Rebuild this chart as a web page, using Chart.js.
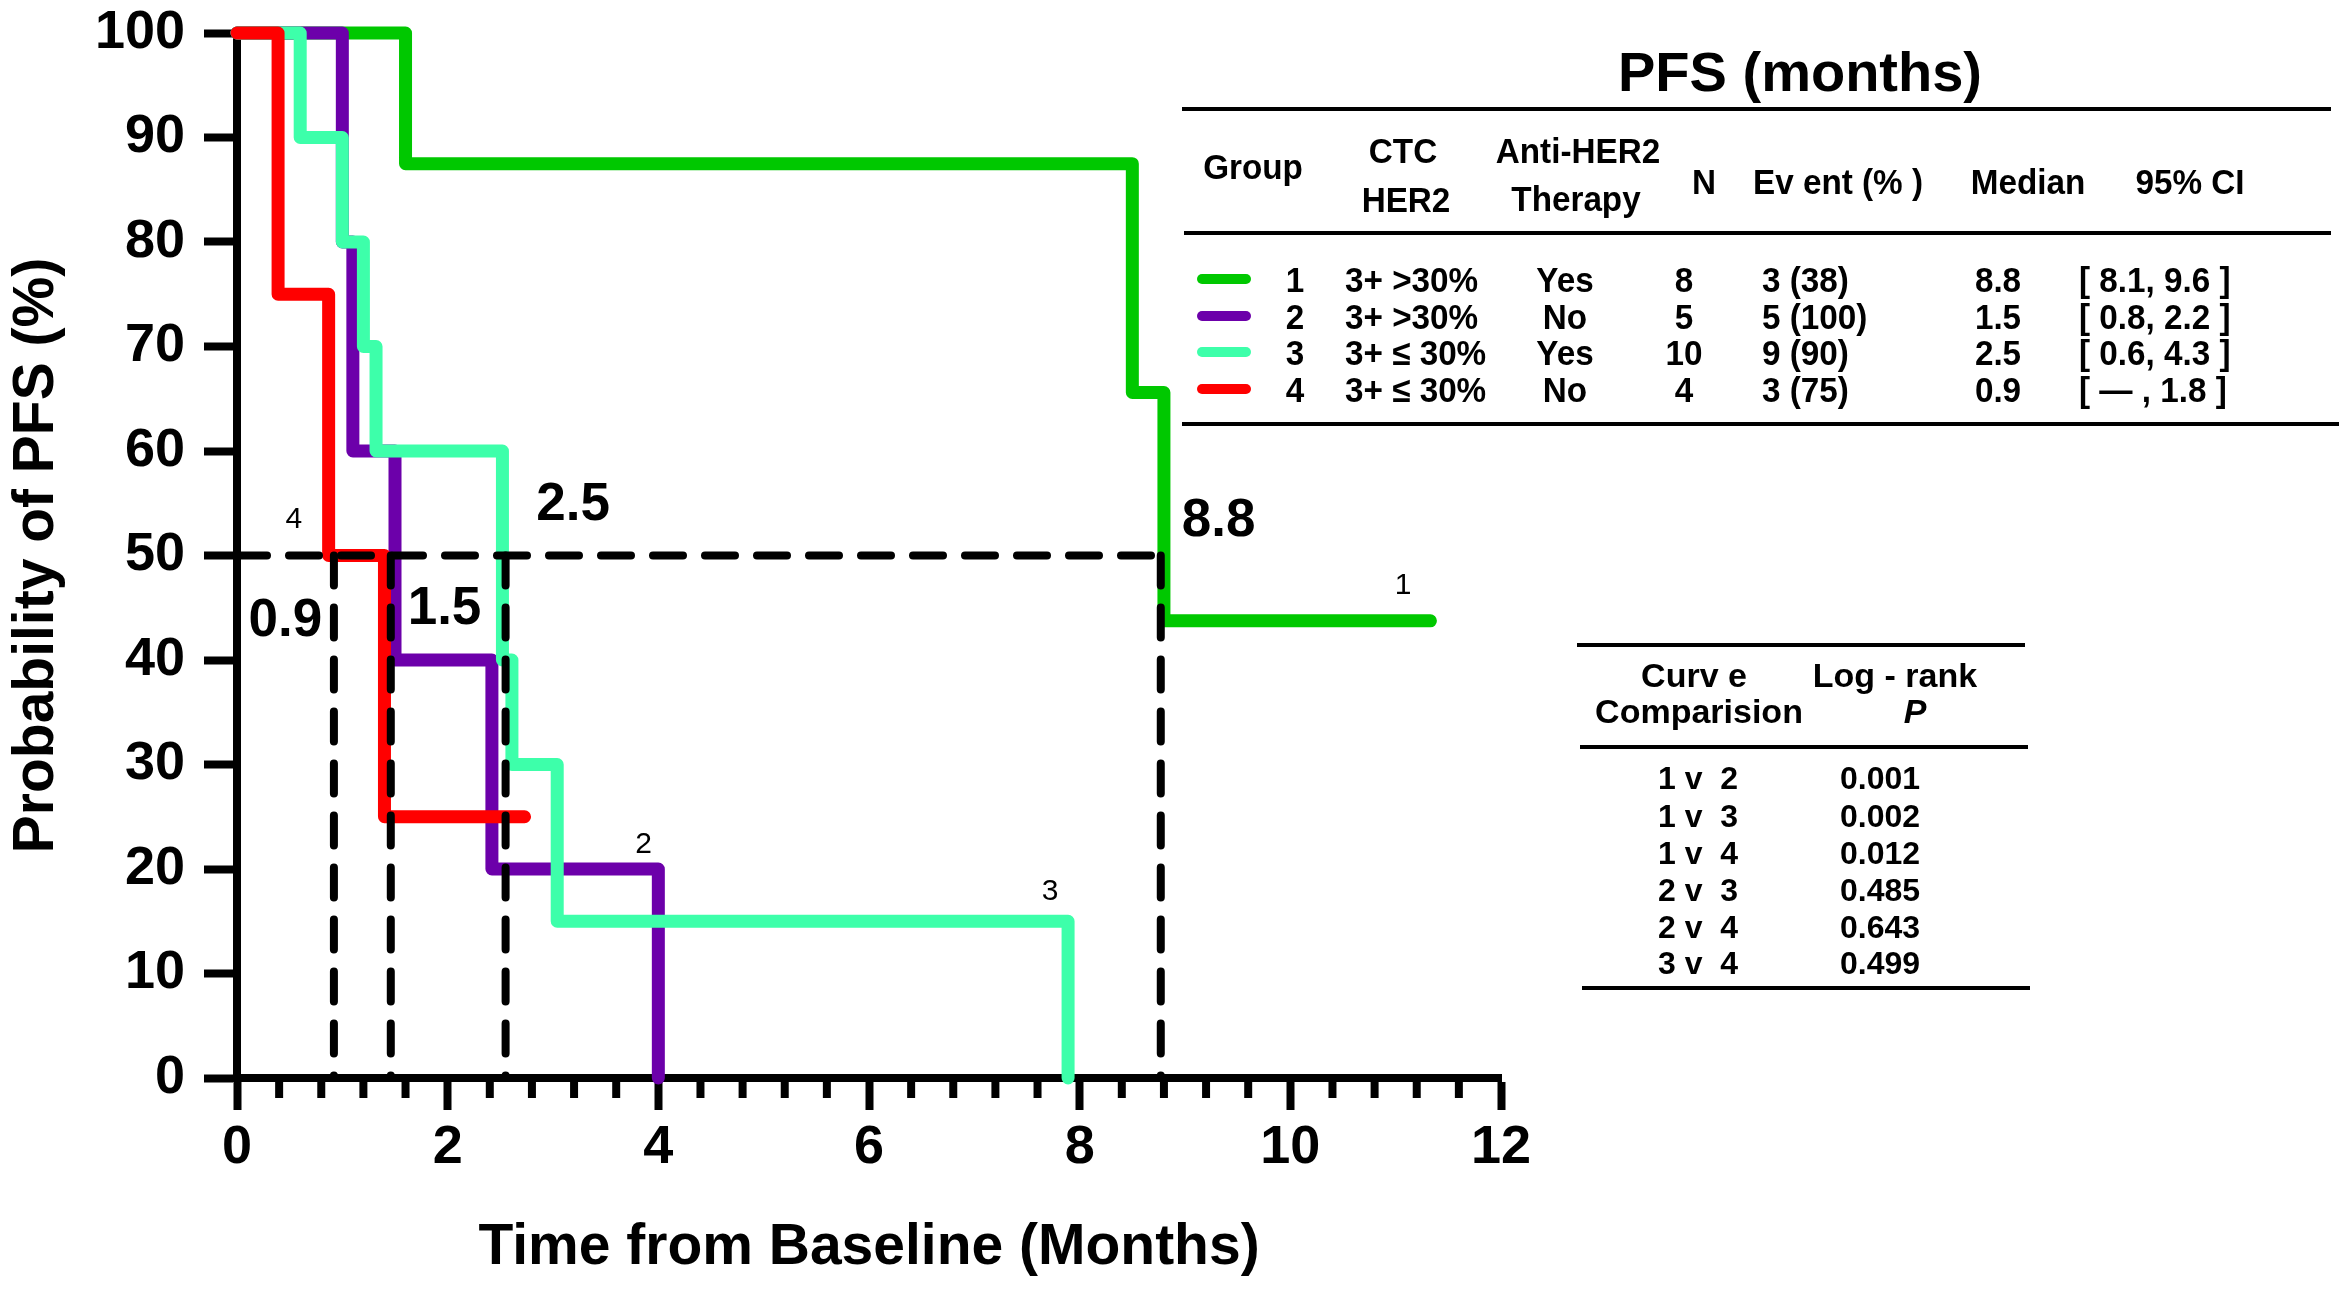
<!DOCTYPE html>
<html>
<head>
<meta charset="utf-8">
<title>PFS by CTC HER2 group</title>
<script src="https://cdn.jsdelivr.net/npm/chart.js@4.4.1/dist/chart.umd.min.js"></script>
<style>
  html, body { margin: 0; padding: 0; background: #fff; }
  #wrap { position: relative; width: 2349px; height: 1293px; overflow: hidden;
          font-family: "Liberation Sans", Arial, sans-serif; color: #000; }
  #myChart { position: absolute; left: 0; top: 0; }
  .t { position: absolute; white-space: pre; line-height: 1; font-weight: bold; }
  .c { transform: translate(-50%, -50%) scaleX(0.95); }
  .l { transform-origin: 0 50%; transform: translate(0, -50%) scaleX(0.95); }
  .c2 { transform: translate(-50%, -50%); }
  .rule { position: absolute; height: 4px; background: #000; }
  .swatch { position: absolute; width: 54px; height: 10px; border-radius: 5px;
            transform: translate(-50%, -50%); }
</style>
</head>
<body>
<div id="wrap">
  <canvas id="myChart" width="2349" height="1293"></canvas>
  <div id="tables"></div>
</div>
<script>
// Kaplan-Meier steps, time in months / survival in %
const g1Time = [0, 1.6, 8.5, 8.8, 11.33];
const g1Surv = [100, 87.5, 65.6, 43.75, 43.75];
const g2Time = [0, 1.0, 1.1, 1.5, 2.42, 4.0];
const g2Surv = [100, 80, 60, 40, 20, 0];
const g3Time = [0, 0.6, 1.0, 1.2, 1.32, 2.52, 2.61, 3.04, 7.89];
const g3Surv = [100, 90, 80, 70, 60, 40, 30, 15, 0];
const g4Time = [0, 0.39, 0.87, 1.4, 2.73];
const g4Surv = [100, 75, 50, 25, 25];

// median guide lines
const medianLevel = 50;
const medianLineX = [0.92, 1.46, 2.55, 8.77];
const medianLabels = ["0.9", "1.5", "2.5", "8.8"];
const medianLabelX = [0.46, 1.97, 3.19, 9.32];
const medianLabelY = [43.7, 44.8, 54.8, 53.3];

// curve number labels
const curveLabels = ["1", "2", "3", "4"];
const curveLabelX = [11.07, 3.86, 7.72, 0.54];
const curveLabelY = [47.1, 22.3, 17.8, 53.4];

// PFS table
const tableGroups = ["1", "2", "3", "4"];
const tableCtcHer2 = ["3+ >30%", "3+ >30%", "3+ \u2264 30%", "3+ \u2264 30%"];
const tableTherapy = ["Yes", "No", "Yes", "No"];
const tableN = ["8", "5", "10", "4"];
const tableEvents = ["3 (38)", "5 (100)", "9 (90)", "3 (75)"];
const tableMedian = ["8.8", "1.5", "2.5", "0.9"];
const tableCI = ["[ 8.1, 9.6 ]", "[ 0.8, 2.2 ]", "[ 0.6, 4.3 ]", "[ \u2014 , 1.8 ]"];

// log-rank table
const comparisons = ["1 v  2", "1 v  3", "1 v  4", "2 v  3", "2 v  4", "3 v  4"];
const logRankP = ["0.001", "0.002", "0.012", "0.485", "0.643", "0.499"];

const groupColors = ["#00c800", "#6c00aa", "#3dffaa", "#ff0000"];
const FONT = "'Liberation Sans', Arial, sans-serif";

document.addEventListener("DOMContentLoaded", () => {
  drawChart();
  drawTables();
});

function kmPoints(times, surv) {
  return times.map((t, i) => ({ x: t, y: surv[i] }));
}

function drawChart() {
  const ctx = document.getElementById("myChart");
  Chart.defaults.font.family = FONT;
  Chart.defaults.color = "#000";

  const dash = {
    borderColor: "#000",
    borderWidth: 8,
    borderDash: [30, 22],
    borderCapStyle: "round",
    pointRadius: 0,
    fill: false,
    clip: false,
  };

  const datasets = [];
  datasets.push({ ...dash, data: [{ x: 0, y: medianLevel }, { x: medianLineX[3], y: medianLevel }] });
  medianLineX.forEach((mx) => {
    datasets.push({ ...dash, data: [{ x: mx, y: medianLevel }, { x: mx, y: 0 }] });
  });

  // drawn top to bottom: red, cyan, purple, green
  const curves = [
    [g4Time, g4Surv, groupColors[3]],
    [g3Time, g3Surv, groupColors[2]],
    [g2Time, g2Surv, groupColors[1]],
    [g1Time, g1Surv, groupColors[0]],
  ];
  curves.forEach(([t, s, col]) => {
    datasets.push({
      data: kmPoints(t, s),
      stepped: true,
      borderColor: col,
      borderWidth: 13,
      borderJoinStyle: "round",
      borderCapStyle: "round",
      pointRadius: 0,
      fill: false,
      clip: false,
    });
  });

  const minorTicks = {
    id: "minorTicks",
    afterDraw(chart) {
      const xs = chart.scales.x;
      const c = chart.ctx;
      const y0 = chart.chartArea.bottom;
      c.save();
      c.strokeStyle = "#000";
      c.lineWidth = 8;
      for (let k = 1; k < 30; k++) {
        if (k % 5 === 0) continue;
        const px = xs.getPixelForValue(k * 0.4);
        c.beginPath();
        c.moveTo(px, y0);
        c.lineTo(px, y0 + 20);
        c.stroke();
      }
      c.restore();
    },
  };

  const labels = {
    id: "labels",
    afterDatasetsDraw(chart) {
      const xs = chart.scales.x;
      const ys = chart.scales.y;
      const c = chart.ctx;
      c.save();
      c.fillStyle = "#000";
      c.textAlign = "center";
      c.textBaseline = "middle";
      c.font = "bold 53px " + FONT;
      medianLabels.forEach((txt, i) => {
        c.fillText(txt, xs.getPixelForValue(medianLabelX[i]), ys.getPixelForValue(medianLabelY[i]));
      });
      c.font = "30px " + FONT;
      curveLabels.forEach((txt, i) => {
        c.fillText(txt, xs.getPixelForValue(curveLabelX[i]), ys.getPixelForValue(curveLabelY[i]));
      });
      c.restore();
    },
  };

  new Chart(ctx, {
    type: "line",
    data: { datasets: datasets },
    options: {
      responsive: false,
      devicePixelRatio: 1,
      animation: false,
      layout: { padding: { left: 0, top: 33, right: 848, bottom: 0 } },
      plugins: { legend: { display: false }, tooltip: { enabled: false } },
      scales: {
        x: {
          type: "linear",
          min: 0,
          max: 12,
          ticks: { stepSize: 2, autoSkip: false, maxRotation: 0, padding: 6,
                   font: { size: 54, weight: "bold" }, color: "#000" },
          grid: { display: true, drawOnChartArea: false, drawTicks: true,
                  tickLength: 32, tickWidth: 8, tickColor: "#000" },
          border: { display: true, color: "#000", width: 8 },
          title: { display: true, text: "Time from Baseline (Months)", color: "#000",
                   font: { size: 57, weight: "bold" }, padding: { top: 0, bottom: 11 } },
          afterFit(scale) {
            scale.height = 215;
            scale.paddingLeft = 0;
            scale.paddingRight = 0;
          },
        },
        y: {
          min: 0,
          max: 100,
          ticks: { stepSize: 10, autoSkip: false, padding: 19,
                   font: { size: 54, weight: "bold" }, color: "#000" },
          grid: { display: true, drawOnChartArea: false, drawTicks: true,
                  tickLength: 33, tickWidth: 8, tickColor: "#000" },
          border: { display: true, color: "#000", width: 8 },
          title: { display: true, text: "Probability of PFS (%)", color: "#000",
                   font: { size: 57, weight: "bold" }, padding: { top: 3, bottom: 0 } },
          afterFit(scale) {
            scale.width = 237;
            scale.paddingTop = 0;
            scale.paddingBottom = 0;
          },
        },
      },
    },
    plugins: [minorTicks, labels],
  });
}

function addText(parent, txt, x, y, cls, size, extra) {
  const el = document.createElement("div");
  el.className = "t " + cls;
  el.textContent = txt;
  el.style.left = x + "px";
  el.style.top = y + "px";
  el.style.fontSize = size + "px";
  if (extra) Object.assign(el.style, extra);
  parent.appendChild(el);
}

function addRule(parent, x1, x2, y) {
  const el = document.createElement("div");
  el.className = "rule";
  el.style.left = x1 + "px";
  el.style.width = (x2 - x1) + "px";
  el.style.top = (y - 2) + "px";
  parent.appendChild(el);
}

function drawTables() {
  const box = document.getElementById("tables");

  // PFS table
  addText(box, "PFS (months)", 1800, 72, "c2", 56);
  addRule(box, 1182, 2331, 109);
  addRule(box, 1184, 2331, 233);
  addRule(box, 1182, 2339, 424);

  const hs = 35;
  addText(box, "Group", 1253, 166, "c", hs);
  addText(box, "CTC", 1403, 150, "c", hs);
  addText(box, "HER2", 1406, 199, "c", hs);
  addText(box, "Anti-HER2", 1578, 150, "c", hs);
  addText(box, "Therapy", 1576, 198, "c", hs);
  addText(box, "N", 1704, 181, "c", hs);
  addText(box, "Ev ent (% )", 1838, 181, "c", hs);
  addText(box, "Median", 2028, 181, "c", hs);
  addText(box, "95% CI", 2190, 181, "c", hs);

  const rowY = [279, 316, 352, 389];
  tableGroups.forEach((g, i) => {
    const y = rowY[i];
    const sw = document.createElement("div");
    sw.className = "swatch";
    sw.style.left = "1224px";
    sw.style.top = y + "px";
    sw.style.background = groupColors[i];
    box.appendChild(sw);
    addText(box, g, 1295, y, "c", hs);
    addText(box, tableCtcHer2[i], 1345, y, "l", hs);
    addText(box, tableTherapy[i], 1565, y, "c", hs);
    addText(box, tableN[i], 1684, y, "c", hs);
    addText(box, tableEvents[i], 1762, y, "l", hs);
    addText(box, tableMedian[i], 1998, y, "c", hs);
    addText(box, tableCI[i], 2079, y, "l", hs);
  });

  // log-rank table
  addRule(box, 1577, 2025, 645);
  addRule(box, 1580, 2028, 747);
  addRule(box, 1582, 2030, 988);
  addText(box, "Curv e", 1694, 675, "c2", 34);
  addText(box, "Comparision", 1699, 711, "c2", 34);
  addText(box, "Log - rank", 1895, 675, "c2", 34);
  addText(box, "P", 1915, 711, "c2", 34, { fontStyle: "italic" });

  const cmpY = [778, 816, 853, 890, 927, 963];
  comparisons.forEach((cmp, i) => {
    addText(box, cmp, 1698, cmpY[i], "c2", 32);
    addText(box, logRankP[i], 1880, cmpY[i], "c2", 32);
  });
}
</script>
</body>
</html>
